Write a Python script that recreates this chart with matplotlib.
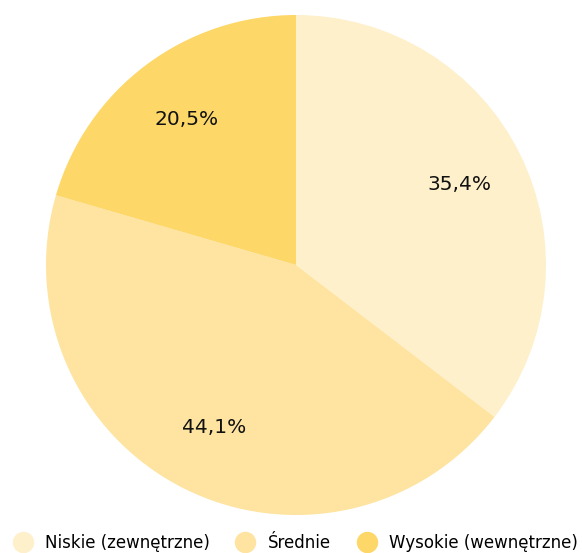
import matplotlib
matplotlib.use('Agg')
import matplotlib.pyplot as plt
from matplotlib.lines import Line2D

# Data
categories = ['Niskie (zewnętrzne)', 'Średnie', 'Wysokie (wewnętrzne)']
shares = [35.4, 44.1, 20.5]
colors = ['#FEF0CB', '#FEE4A0', '#FDD768']

plt.rcParams['font.family'] = ['DejaVu Sans']

fig = plt.figure(figsize=(5.82, 5.53), dpi=100)
# pie axes: center (296, 265), radius 250 px
ax = fig.add_axes([46 / 582, 1 - 515 / 553, 500 / 582, 500 / 553])

ax.pie(shares, colors=colors, startangle=90, counterclock=False,
       autopct=lambda p: f'{p:.1f}%'.replace('.', ','), pctdistance=0.73,
       textprops={'fontsize': 14.5, 'color': '#111111'},
       wedgeprops={'linewidth': 0})
ax.set_aspect('equal')
ax.set_xlim(-1, 1)
ax.set_ylim(-1, 1)

handles = [Line2D([0], [0], marker='o', linestyle='', markersize=14.4,
                  markerfacecolor=c, markeredgecolor=c) for c in colors]
fig.legend(handles, categories, loc='center', bbox_to_anchor=(295 / 582, 1 - 543 / 553),
           ncol=3, frameon=False, fontsize=12, handletextpad=0.72,
           columnspacing=1.56, handlelength=1.2)

fig.savefig('out.png', dpi=100)
